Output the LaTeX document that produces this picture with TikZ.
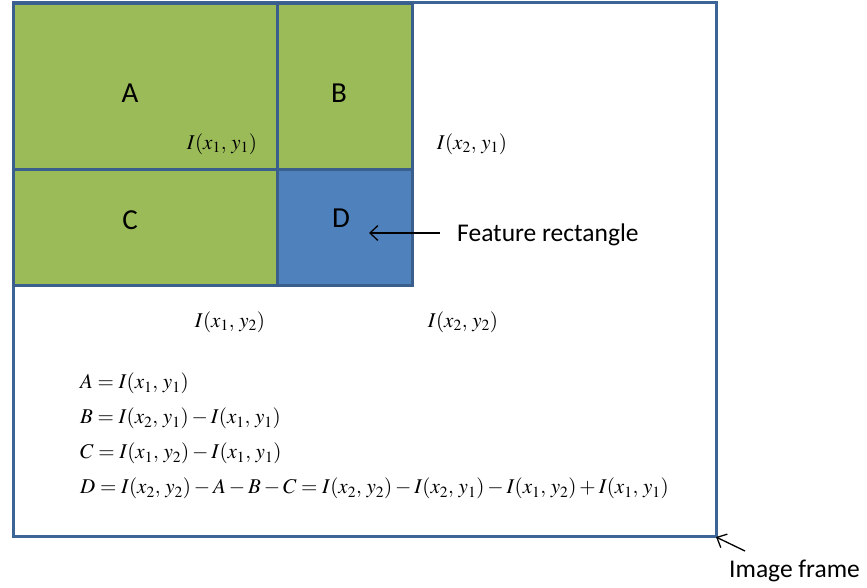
\documentclass[tikz,border=0pt]{standalone}
\usepackage{mathptmx}
\usepackage{fontspec}
\setmainfont{Carlito}
\usepackage{xcolor}
\usepackage{tikz}
\usetikzlibrary{arrows.meta,positioning}

\definecolor{framecol}{HTML}{3C6496}
\definecolor{cellgreen}{HTML}{9BBB59}
\definecolor{cellblue}{HTML}{4F81BD}
\definecolor{celledge}{HTML}{3A5F8C}

\begin{document}
\begin{tikzpicture}[
    x=1pt, y=-1pt,
    cell/.style={rectangle, draw=celledge, line width=3pt, anchor=north west, inner sep=0pt},
    letter/.style={font=\fontsize{29}{31}\selectfont},
    coord/.style={font=\fontsize{21}{23}\selectfont},
    note/.style={font=\fontsize{25.5}{28}\selectfont, anchor=west, inner sep=0pt},
    pointer/.style={-{Straight Barb[length=8pt,width=15pt]}, line width=1.3pt}
]
    \useasboundingbox (0,0) rectangle (867,587);

    % Image frame
    \node[rectangle, draw=framecol, line width=3pt, anchor=north west, inner sep=0pt,
          minimum width=703pt, minimum height=534pt] (frame) at (12,1) {};

    % Cells
    \node[cell, fill=cellgreen, minimum width=264pt, minimum height=166pt] (cellA) at (12,2) {};
    \node[cell, fill=cellgreen, minimum width=135pt, minimum height=166pt] (cellB) at (276,2) {};
    \node[cell, fill=cellgreen, minimum width=264pt, minimum height=116pt] (cellC) at (12,168) {};
    \node[cell, fill=cellblue, minimum width=135pt, minimum height=116pt] (cellD) at (276,168) {};

    % Letters
    \node[letter] (labA) at (130,93) {A};
    \node[letter] (labB) at (339,93) {B};
    \node[letter] (labC) at (130,220) {C};
    \node[letter] (labD) at (341,218) {D};

    % Corner values
    \node[coord] (i11) at (222,144) {$I(x_1,\, y_1)$};
    \node[coord] (i21) at (472,144) {$I(x_2,\, y_1)$};
    \node[coord] (i12) at (230,322) {$I(x_1,\, y_2)$};
    \node[coord] (i22) at (463,322) {$I(x_2,\, y_2)$};

    % Notes
    \node[note] (feat) at (457,235) {Feature rectangle};
    \coordinate (featTail) at (440,233);
    \coordinate (featTip) at (369,233);
    \draw[pointer] (featTail) -- (featTip);

    \node[note] (imgframe) at (729,571) {Image frame};
    \coordinate (frameTip) at (716,537);
    \draw[pointer] (745,551) -- (frameTip);

    % Equations
    \node[coord, anchor=north west, align=left, inner sep=0pt] (eqs) at (80,373) {%
        $A = I(x_1,\, y_1)$\\[12pt]
        $B = I(x_2,\, y_1) - I(x_1,\, y_1)$\\[12pt]
        $C = I(x_1,\, y_2) - I(x_1,\, y_1)$\\[12pt]
        $D = I(x_2,\, y_2) - A - B - C = I(x_2,\, y_2) - I(x_2,\, y_1) - I(x_1,\, y_2) + I(x_1,\, y_1)$};
\end{tikzpicture}
\end{document}
